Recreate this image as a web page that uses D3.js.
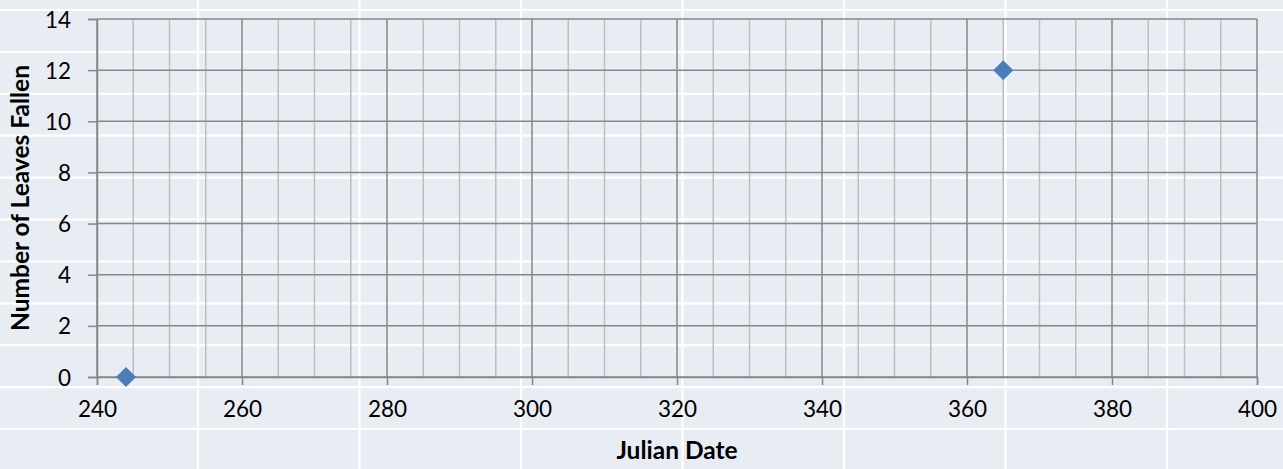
<!DOCTYPE html>
<html>
<head>
<meta charset="utf-8">
<script src="https://cdn.jsdelivr.net/npm/d3@7"></script>
<style>
  html, body { margin: 0; padding: 0; background: #E8ECF3; }
  svg { display: block; }
  text { font-family: Lato, "Open Sans", sans-serif; fill: #000; }
</style>
</head>
<body>
<script>
// Data
const julianDates = [244, 365];
const leavesFallen = [0, 12];
const xTickValues = [240, 260, 280, 300, 320, 340, 360, 380, 400];
const yTickValues = [0, 2, 4, 6, 8, 10, 12, 14];
const xMinorValues = d3.range(240, 401, 5);
const xTitle = "Julian Date";
const yTitle = "Number of Leaves Fallen";

const W = 1283, H = 469;
const svg = d3.select("body").append("svg").attr("width", W).attr("height", H);

// spreadsheet background grid (white cell borders)
svg.append("rect").attr("width", W).attr("height", H).attr("fill", "#E8ECF3");
const rowLines = d3.range(0, 11).map(k => 10 + 41.9 * k);
const colLines = d3.range(0, 7).map(k => 198 + 161.5 * k);
svg.append("g").selectAll("line.r").data(rowLines).join("line")
  .attr("x1", 0).attr("x2", W).attr("y1", d => d).attr("y2", d => d)
  .attr("stroke", "#fff").attr("stroke-width", 2.2);
svg.append("g").selectAll("line.c").data(colLines).join("line")
  .attr("y1", 0).attr("y2", H).attr("x1", d => d).attr("x2", d => d)
  .attr("stroke", "#fff").attr("stroke-width", 2.2);

const x = d3.scaleLinear().domain([240, 400]).range([97, 1257]);
const y = d3.scaleLinear().domain([0, 14]).range([377, 19]);

const major = "#878787", minor = "#BEBEBE";

// minor vertical grid
svg.append("g").selectAll("line").data(xMinorValues.filter(v => v % 20 !== 0)).join("line")
  .attr("x1", d => x(d)).attr("x2", d => x(d)).attr("y1", y(14)).attr("y2", y(0))
  .attr("stroke", minor).attr("stroke-width", 1.5);
// major vertical grid
svg.append("g").selectAll("line").data(xTickValues).join("line")
  .attr("x1", d => x(d)).attr("x2", d => x(d)).attr("y1", y(14)).attr("y2", y(0))
  .attr("stroke", major).attr("stroke-width", 1.5);
// major horizontal grid
svg.append("g").selectAll("line").data(yTickValues).join("line")
  .attr("x1", x(240)).attr("x2", x(400)).attr("y1", d => y(d)).attr("y2", d => y(d))
  .attr("stroke", major).attr("stroke-width", 1.5);

// axes
const xAxis = svg.append("g").attr("transform", `translate(0,${y(0)})`)
  .call(d3.axisBottom(x).tickValues(xTickValues).tickSize(8).tickPadding(16).tickFormat(d3.format("d")));
const yAxis = svg.append("g").attr("transform", `translate(${x(240)},0)`)
  .call(d3.axisLeft(y).tickValues(yTickValues).tickSize(9).tickPadding(17).tickFormat(d3.format("d")));
[xAxis, yAxis].forEach(g => {
  g.select(".domain").attr("stroke", major).attr("stroke-width", 1.5);
  g.selectAll(".tick line").attr("stroke", major).attr("stroke-width", 1.5);
  g.selectAll(".tick text").attr("font-size", 22.5).attr("font-family", "Lato, sans-serif").attr("fill", "#000");
});
yAxis.selectAll(".tick text").attr("dy", "0.36em");

// points
svg.append("g").selectAll("path").data(julianDates.map((d, i) => [d, leavesFallen[i]])).join("path")
  .attr("d", d3.symbol().type(d3.symbolSquare).size(200))
  .attr("transform", d => `translate(${x(d[0])},${y(d[1])}) rotate(45)`)
  .attr("fill", "#4A7EBB");

// titles
svg.append("text").attr("x", (x(240) + x(400)) / 2).attr("y", 459)
  .attr("text-anchor", "middle").attr("font-weight", "bold").attr("font-size", 24.5)
  .text(xTitle);
svg.append("text").attr("transform", `translate(28.5,${(y(0) + y(14)) / 2}) rotate(-90)`)
  .attr("text-anchor", "middle").attr("font-weight", "bold").attr("font-size", 24.5)
  .text(yTitle);
</script>
</body>
</html>
